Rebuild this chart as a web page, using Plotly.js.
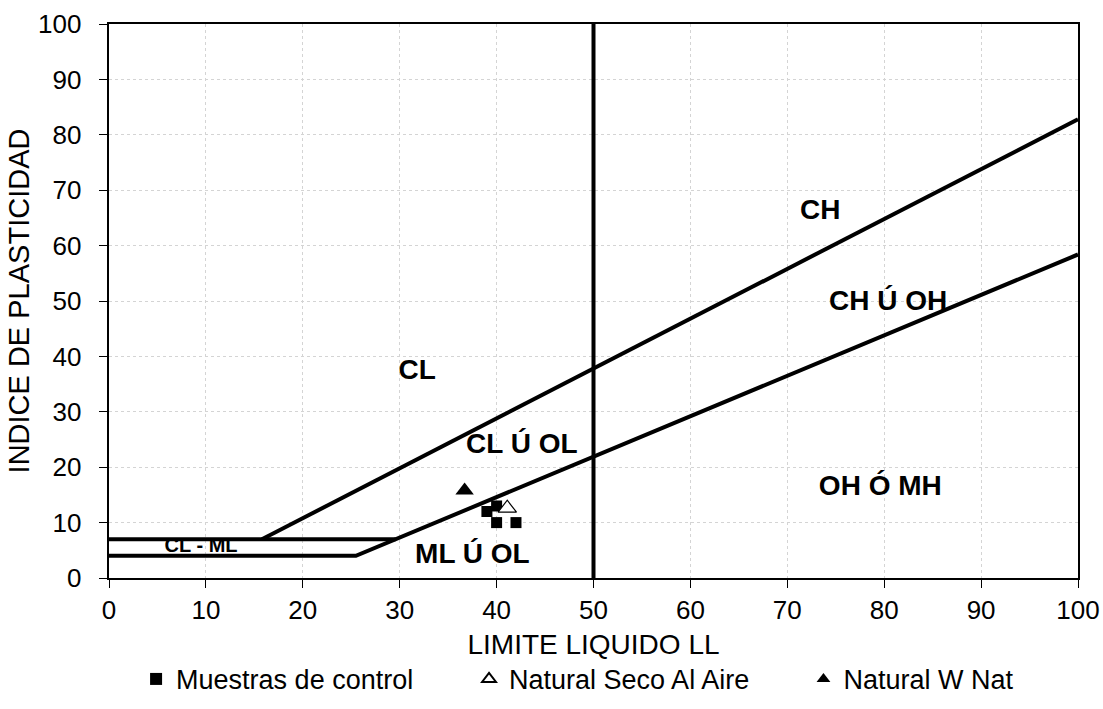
<!DOCTYPE html>
<html>
<head>
<meta charset="utf-8">
<script src="https://cdn.plot.ly/plotly-3.0.1.min.js"></script>
<style>
  html, body { margin: 0; padding: 0; background: #fff; }
  #carta { width: 1103px; height: 709px; }
</style>
</head>
<body>
<div id="carta"></div>
<script>
// Carta de plasticidad de Casagrande
var ejeX = [0, 10, 20, 30, 40, 50, 60, 70, 80, 90, 100];
var ejeY = [0, 10, 20, 30, 40, 50, 60, 70, 80, 90, 100];

// Límites de la carta
var lineaA_ll = [0, 25.48, 100];
var lineaA_ip = [4, 4, 58.4];
var lineaU_ll = [15.78, 100];
var lineaU_ip = [7, 82.8];
var limite7_ll = [0, 29.59];
var limite7_ip = [7, 7];
var ll50_ll = [50, 50];
var ll50_ip = [0, 100];

// Zonas
var zonaTexto = ["CH", "CH Ú OH", "CL", "CL Ú OL", "OH Ó MH", "ML Ú OL"];
var zonaLL = [73.4, 80.4, 31.8, 42.6, 79.6, 37.5];
var zonaIP = [66.1, 49.7, 37.2, 23.9, 16.3, 3.9];
var zonaMenorTexto = ["CL - ML"];
var zonaMenorLL = [9.5];
var zonaMenorIP = [5.6];

// Ensayos
var muestrasLL = [39.0, 40.0, 40.0, 42.0];
var muestrasIP = [12.0, 13.0, 10.0, 10.0];
var secoLL = [41.1];
var secoIP = [12.6];
var wnatLL = [36.7];
var wnatIP = [15.8];

var fuente = "Liberation Sans, Arial, sans-serif";
var negro = "#000000";
var hueco = "\u00a0\u2009";

function limite(x, y) {
  return {x: x, y: y, mode: "lines", type: "scatter", showlegend: false,
          hoverinfo: "skip", line: {color: negro, width: 4}};
}

var trazas = [
  // los rótulos van primero para que las líneas queden por encima
  {x: zonaMenorLL, y: zonaMenorIP, text: zonaMenorTexto, mode: "text", type: "scatter",
   showlegend: false, hoverinfo: "skip",
   textfont: {family: fuente, size: 20, color: negro, weight: "bold"}},
  {x: zonaLL, y: zonaIP, text: zonaTexto, mode: "text", type: "scatter",
   showlegend: false, hoverinfo: "skip",
   textfont: {family: fuente, size: 28, color: negro, weight: "bold"}},
  limite(lineaA_ll, lineaA_ip),
  limite(lineaU_ll, lineaU_ip),
  limite(limite7_ll, limite7_ip),
  limite(ll50_ll, ll50_ip),
  {x: muestrasLL, y: muestrasIP, name: "Muestras de control", mode: "markers", type: "scatter",
   legend: "legend",
   marker: {symbol: "square", size: 11, color: negro, line: {width: 0}}},
  {x: secoLL, y: secoIP, name: "Natural Seco Al Aire", mode: "markers", type: "scatter",
   legend: "legend2",
   marker: {symbol: "triangle-up", size: 16, color: "#ffffff", line: {color: negro, width: 1.2}}},
  {x: wnatLL, y: wnatIP, name: "Natural W Nat", mode: "markers", type: "scatter",
   legend: "legend3",
   marker: {symbol: "triangle-up", size: 16, color: negro, line: {width: 0}}}
];

var ejeComun = {
  showline: true, linecolor: negro, linewidth: 2, mirror: true,
  ticks: "outside", ticklen: 8, tickcolor: negro, tickwidth: 1,
  showgrid: true, gridcolor: "#d4d4d4", griddash: "dot", gridwidth: 1,
  zeroline: false, automargin: false,
  tickfont: {family: fuente, size: 26, color: negro}
};

function leyenda(xDer) {
  return {orientation: "h", x: xDer, xanchor: "right", y: -0.183, yanchor: "middle",
          font: {family: fuente, size: 27, color: negro}, itemsizing: "constant",
          itemwidth: 30, bgcolor: "rgba(0,0,0,0)"};
}

var layout = {
  width: 1103, height: 709,
  margin: {l: 109, r: 25, t: 24, b: 131, autoexpand: false},
  paper_bgcolor: "#ffffff", plot_bgcolor: "#ffffff",
  xaxis: Object.assign({}, ejeComun, {
    range: [0, 100], tickvals: ejeX, ticktext: ejeX.map(String),
    title: {text: "LIMITE LIQUIDO LL", font: {family: fuente, size: 28, color: negro}, standoff: 10}
  }),
  yaxis: Object.assign({}, ejeComun, {
    range: [0, 100], tickvals: ejeY, ticktext: ejeY.map(function (v) { return v + hueco; }),
    title: {text: "INDICE DE PLASTICIDAD", font: {family: fuente, size: 29, color: negro}, standoff: 0}
  }),
  showlegend: true,
  legend: leyenda(0.320),
  legend2: leyenda(0.6667),
  legend3: leyenda(0.9396)
};

Plotly.newPlot("carta", trazas, layout, {displayModeBar: false, staticPlot: true});
</script>
</body>
</html>
